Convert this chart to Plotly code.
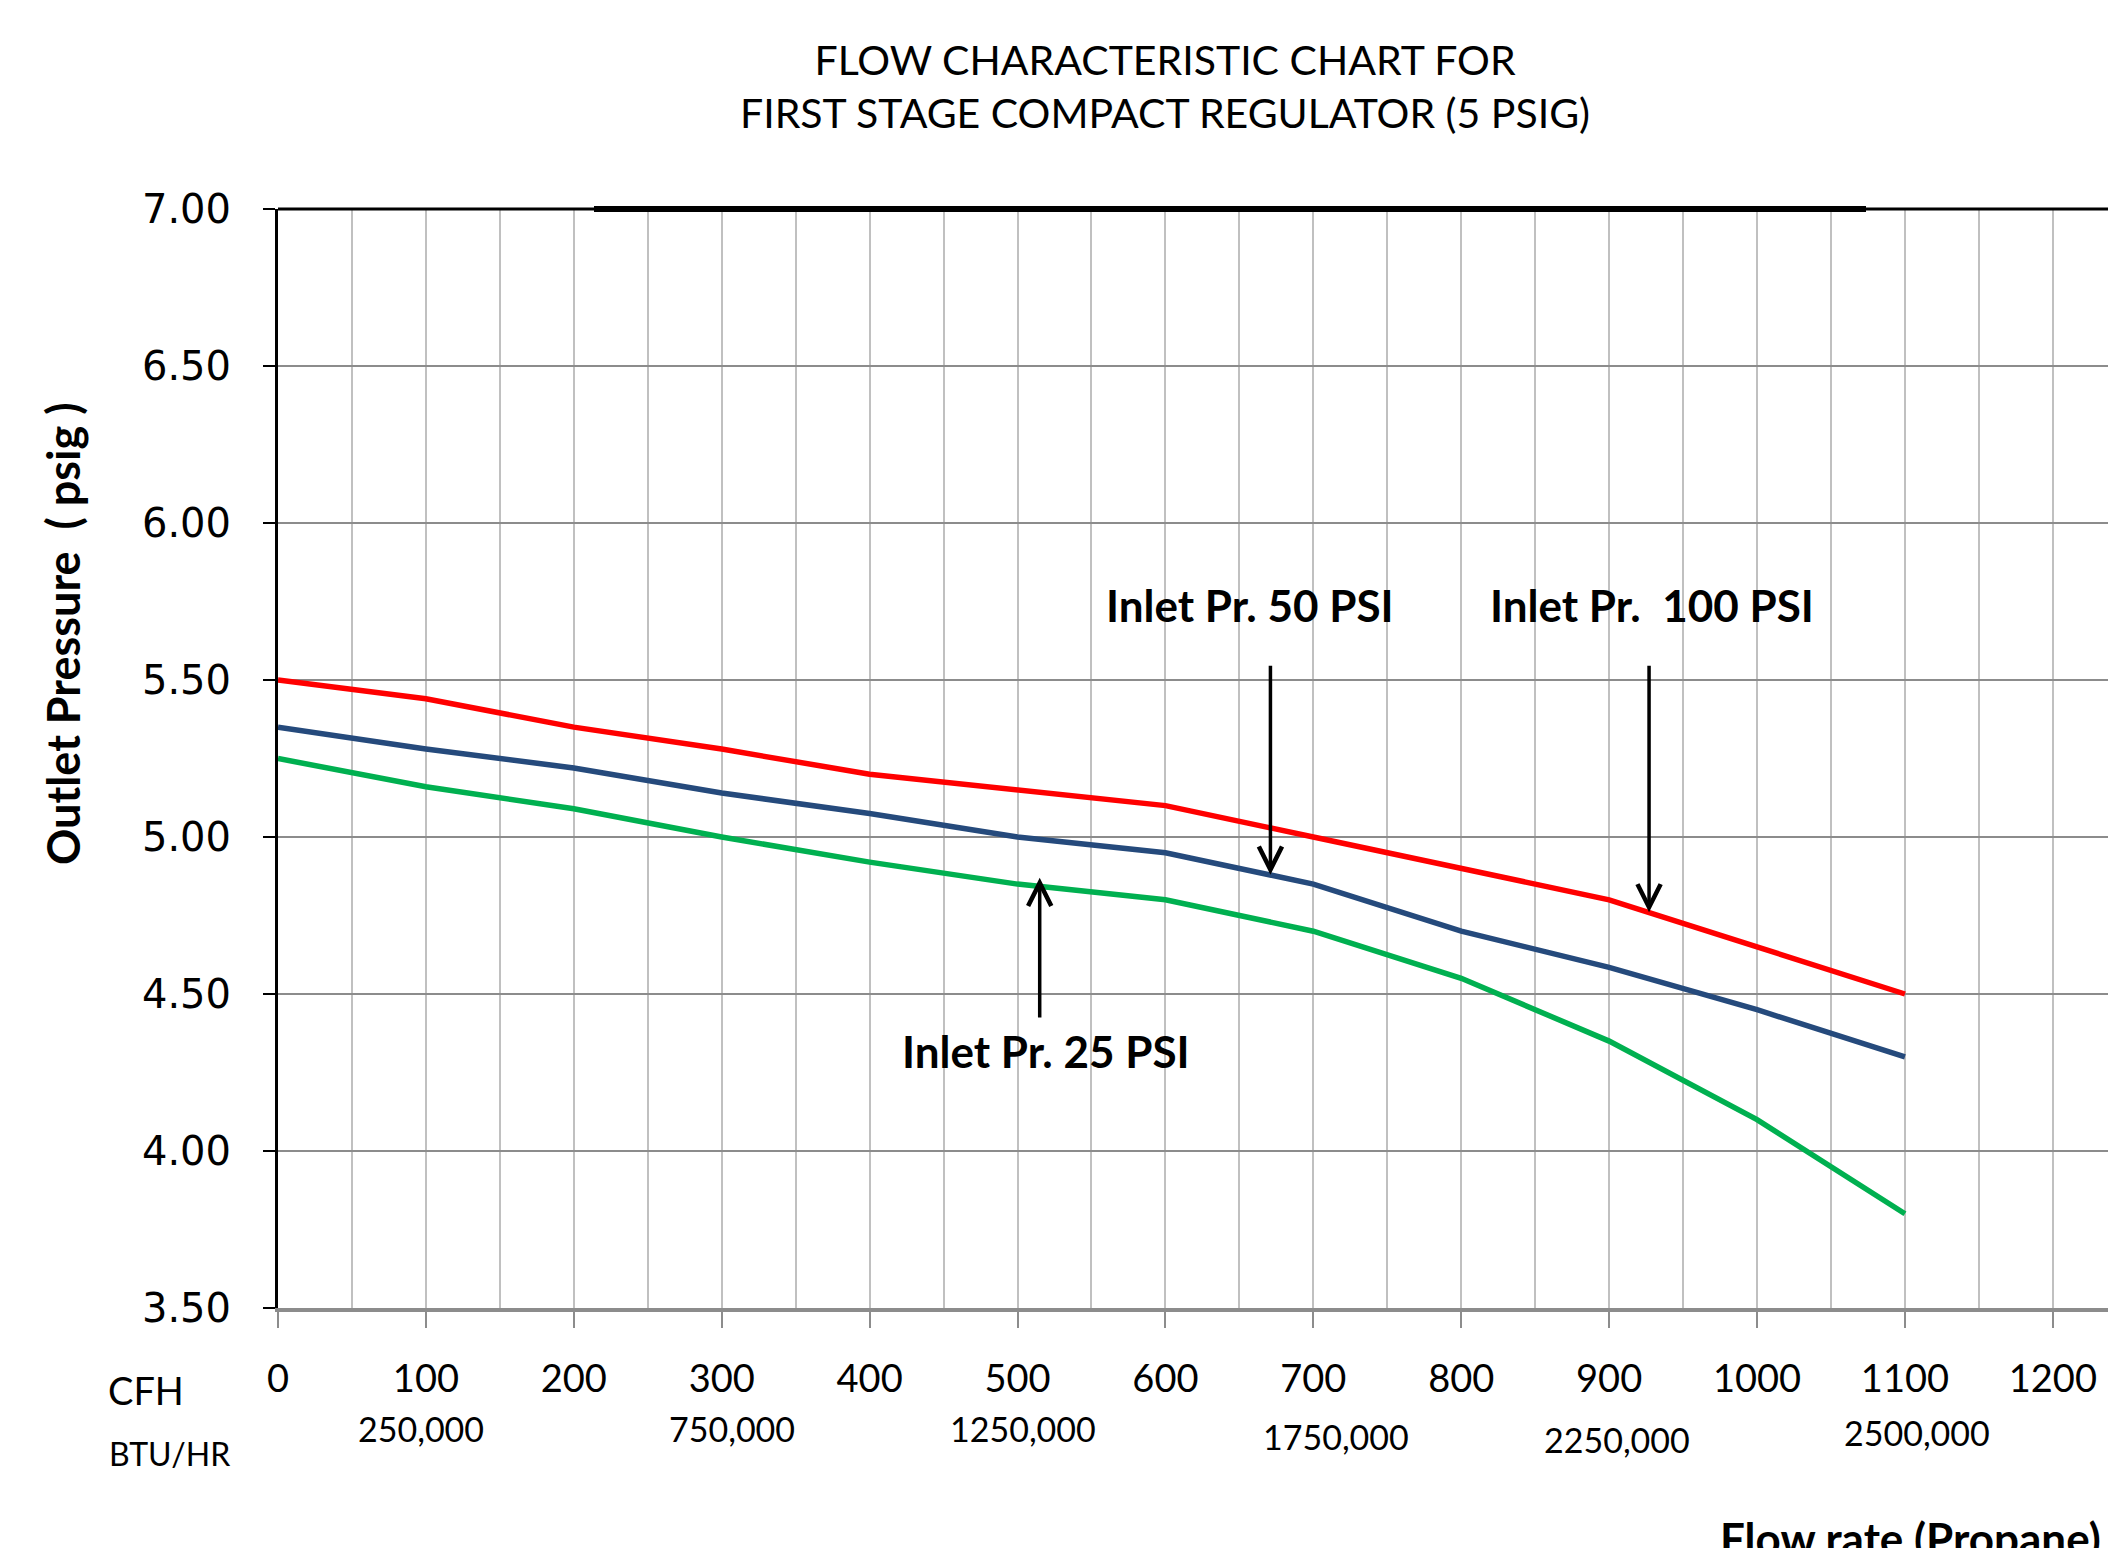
import plotly.graph_objects as go

# ---- data ----
cfh = [0, 100, 200, 300, 400, 500, 600, 700, 800, 900, 1000, 1100]
p_inlet_100 = [5.50, 5.44, 5.35, 5.28, 5.20, 5.15, 5.10, 5.00, 4.90, 4.80, 4.65, 4.50]
p_inlet_50 = [5.35, 5.28, 5.22, 5.14, 5.075, 5.00, 4.95, 4.85, 4.70, 4.585, 4.45, 4.30]
p_inlet_25 = [5.25, 5.16, 5.09, 5.00, 4.92, 4.85, 4.80, 4.70, 4.55, 4.35, 4.10, 3.80]

x_ticks = [0, 100, 200, 300, 400, 500, 600, 700, 800, 900, 1000, 1100, 1200]
y_ticks = [3.5, 4.0, 4.5, 5.0, 5.5, 6.0, 6.5, 7.0]
btu_labels = ["250,000", "750,000", "1250,000", "1750,000", "2250,000", "2500,000"]
btu_at_cfh = [97, 307, 504, 715, 905, 1108]

FONT = "Lato"
OFF = 8  # page body margin
W, H = 2116 - OFF, 1548 - OFF
L, T, PW, PH = 278 - OFF, 209 - OFF, 1834, 1099  # plot area in figure pixels


def px_x(px):
    """screen pixel -> paper x"""
    return (px - OFF - L) / PW


def px_y(py):
    """screen pixel -> paper y"""
    return 1 - (py - OFF - T) / PH


fig = go.Figure()
fig.add_trace(go.Scatter(x=cfh, y=p_inlet_100, mode="lines", name="Inlet Pr. 100 PSI",
                         line=dict(color="#FF0000", width=5.5)))
fig.add_trace(go.Scatter(x=cfh, y=p_inlet_50, mode="lines", name="Inlet Pr. 50 PSI",
                         line=dict(color="#254A7C", width=5.5)))
fig.add_trace(go.Scatter(x=cfh, y=p_inlet_25, mode="lines", name="Inlet Pr. 25 PSI",
                         line=dict(color="#00B050", width=5.5)))

fig.update_layout(
    width=W, height=H,
    margin=dict(l=L, r=W - L - PW, t=T, b=H - T - PH, autoexpand=False),
    paper_bgcolor="white", plot_bgcolor="white",
    showlegend=False,
    font=dict(family=FONT, color="black"),
)

fig.update_xaxes(
    range=[0, 1240], tickvals=x_ticks, ticktext=[str(v) for v in x_ticks],
    showgrid=True, gridcolor="#C0C0C0", gridwidth=2,
    minor=dict(dtick=50, tick0=0, showgrid=True, gridcolor="#C0C0C0", gridwidth=2),
    showline=True, linecolor="#8C8C8C", linewidth=4,
    ticks="outside", ticklen=16, tickwidth=2, tickcolor="#8C8C8C",
    tickfont=dict(family=FONT, size=38, color="black"),
    ticklabelstandoff=18, zeroline=False, automargin=False,
)
fig.update_yaxes(
    range=[3.5, 7.0], tickvals=y_ticks, ticktext=[f"{v:.2f}" for v in y_ticks],
    showgrid=True, gridcolor="#8C8C8C", gridwidth=2,
    showline=True, linecolor="black", linewidth=3,
    ticks="outside", ticklen=12, tickwidth=2, tickcolor="black",
    tickfont=dict(family="DejaVu Sans", size=40, color="black"),
    ticklabelstandoff=24, zeroline=False, automargin=False,
)

# frame top/right
fig.add_shape(type="line", xref="paper", yref="paper", x0=0, x1=1, y0=1, y1=1,
              line=dict(color="black", width=3))
fig.add_shape(type="line", xref="paper", yref="paper", x0=1, x1=1, y0=0, y1=1,
              line=dict(color="black", width=3))
# heavier border segments as in the original
fig.add_shape(type="line", xref="paper", yref="paper", x0=px_x(594), x1=px_x(1866), y0=1, y1=1,
              line=dict(color="black", width=6))
fig.add_shape(type="line", xref="paper", yref="paper", x0=1, x1=1, y0=px_y(573), y1=px_y(1000),
              line=dict(color="black", width=6))

# title
fig.add_annotation(text="FLOW CHARACTERISTIC CHART FOR<br>FIRST STAGE COMPACT REGULATOR (5 PSIG)",
                   xref="paper", yref="paper", x=px_x(1165), y=px_y(86),
                   showarrow=False, font=dict(family=FONT, size=41), align="center",
                   xanchor="center", yanchor="middle")

# y-axis title
fig.add_annotation(text="<b>Outlet Pressure  ( psig )</b>", xref="paper", yref="paper",
                   x=px_x(63), y=px_y(634), textangle=-90, showarrow=False,
                   font=dict(family=FONT, size=45), xanchor="center", yanchor="middle")

# arrows
arrow_style = dict(showarrow=True, arrowhead=5, arrowwidth=3.5, arrowsize=1.3,
                   arrowcolor="black", axref="x", ayref="y", text="")
fig.add_annotation(x=671, y=4.88, ax=671, ay=5.55, **arrow_style)
fig.add_annotation(x=927, y=4.76, ax=927, ay=5.55, **arrow_style)
fig.add_annotation(x=515, y=4.87, ax=515, ay=4.42, **arrow_style)

label_font = dict(family=FONT, size=44, color="black")
fig.add_annotation(x=657, y=5.74, text="<b>Inlet Pr. 50 PSI</b>", showarrow=False, font=label_font)
fig.add_annotation(x=929, y=5.74, text="<b>Inlet Pr.  100 PSI</b>", showarrow=False, font=label_font)
fig.add_annotation(x=519, y=4.32, text="<b>Inlet Pr. 25 PSI</b>", showarrow=False, font=label_font)

# CFH / BTU labels
fig.add_annotation(text="CFH", xref="paper", yref="paper", x=px_x(146), y=px_y(1390),
                   showarrow=False, font=dict(family=FONT, size=38), xanchor="center", yanchor="middle")
fig.add_annotation(text="BTU/HR", xref="paper", yref="paper", x=px_x(169), y=px_y(1453),
                   showarrow=False, font=dict(family=FONT, size=32), xanchor="center", yanchor="middle")
btu_py = [1428, 1428, 1428, 1436, 1439, 1432]
for lab, xv, pyv in zip(btu_labels, btu_at_cfh, btu_py):
    fig.add_annotation(text=lab, x=xv, xref="x", yref="paper", y=px_y(pyv), showarrow=False,
                       font=dict(family=FONT, size=34), xanchor="center", yanchor="middle")

fig.add_annotation(text="<b>Flow rate (Propane)</b>", xref="paper", yref="paper",
                   x=px_x(1718), y=px_y(1538), showarrow=False,
                   font=dict(family=FONT, size=44), xanchor="left", yanchor="middle")

fig.write_html("out.html")
